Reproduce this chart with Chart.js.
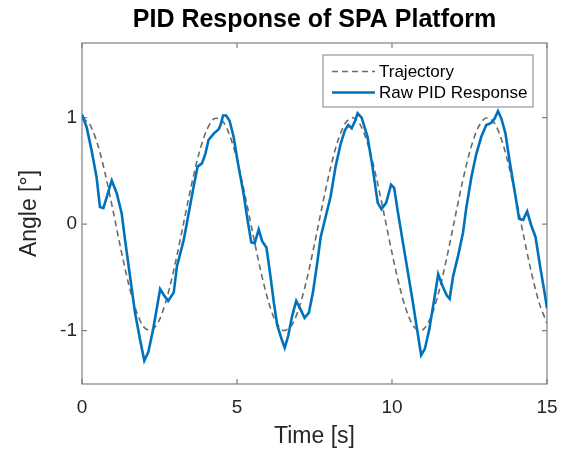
<!DOCTYPE html>
<html>
<head>
<meta charset="utf-8">
<title>PID Response of SPA Platform</title>
<script src="https://cdn.jsdelivr.net/npm/chart.js@4.4.0/dist/chart.umd.min.js"></script>
<style>
  html, body { margin: 0; padding: 0; background: #fff; }
  #wrap { width: 562px; height: 453px; }
</style>
</head>
<body>
<div id="wrap"><canvas id="pidChart" width="562" height="453"></canvas></div>
<script>
// reference trajectory (dashed), sampled every 0.25 s
const trajTime = [
  0, 0.25, 0.5, 0.75, 1, 1.25, 1.5, 1.75, 2, 2.25,
  2.5, 2.75, 3, 3.25, 3.5, 3.75, 4, 4.25, 4.5, 4.75,
  5, 5.25, 5.5, 5.75, 6, 6.25, 6.5, 6.75, 7, 7.25,
  7.5, 7.75, 8, 8.25, 8.5, 8.75, 9, 9.25, 9.5, 9.75,
  10, 10.25, 10.5, 10.75, 11, 11.25, 11.5, 11.75, 12, 12.25,
  12.5, 12.75, 13, 13.25, 13.5, 13.75, 14, 14.25, 14.5, 14.75, 15
];
const trajAngle = [
  1.000, 0.936, 0.752, 0.471, 0.129, -0.229, -0.557, -0.814, -0.967, -0.995,
  -0.896, -0.681, -0.379, -0.029, 0.325, 0.638, 0.868, 0.987, 0.980, 0.846,
  0.604, 0.284, -0.072, -0.419, -0.712, -0.914, -0.998, -0.955, -0.788, -0.521,
  -0.186, 0.172, 0.508, 0.779, 0.950, 0.999, 0.920, 0.722, 0.432, 0.086,
  -0.270, -0.592, -0.838, -0.977, -0.990, -0.875, -0.649, -0.339, 0.014, 0.366,
  0.670, 0.889, 0.993, 0.970, 0.822, 0.569, 0.243, -0.115, -0.458, -0.741, -0.931
];

// raw PID response (solid blue)
const pidTime = [
  0.00, 0.15, 0.31, 0.47, 0.58, 0.69, 0.96, 1.12, 1.28, 1.39,
  1.55, 1.71, 1.87, 2.01, 2.14, 2.30, 2.52, 2.65, 2.78, 2.96,
  3.06, 3.28, 3.44, 3.60, 3.73, 3.87, 3.98, 4.08, 4.25, 4.41,
  4.48, 4.55, 4.65, 4.76, 4.89, 5.05, 5.21, 5.34, 5.46, 5.57,
  5.70, 5.81, 5.95, 6.08, 6.19, 6.30, 6.44, 6.54, 6.65, 6.78,
  6.91, 7.05, 7.18, 7.32, 7.45, 7.59, 7.70, 7.86, 8.02, 8.18,
  8.34, 8.48, 8.59, 8.70, 8.81, 8.89, 9.02, 9.21, 9.37, 9.54,
  9.66, 9.81, 9.97, 10.07, 10.18, 10.34, 10.50, 10.66, 10.81, 10.94,
  11.06, 11.20, 11.36, 11.49, 11.63, 11.77, 11.86, 11.97, 12.13, 12.29,
  12.40, 12.56, 12.72, 12.88, 13.04, 13.20, 13.31, 13.42, 13.53, 13.66,
  13.79, 13.95, 14.10, 14.23, 14.36, 14.49, 14.63, 14.78, 14.92, 15.00
];
const pidAngle = [
  1.03, 0.91, 0.69, 0.44, 0.16, 0.15, 0.41, 0.29, 0.10, -0.15,
  -0.49, -0.83, -1.08, -1.28, -1.20, -0.98, -0.61, -0.67, -0.72, -0.64,
  -0.40, -0.15, 0.10, 0.35, 0.54, 0.57, 0.66, 0.79, 0.85, 0.89,
  0.94, 1.02, 1.02, 0.97, 0.82, 0.54, 0.29, 0.04, -0.17, -0.18,
  -0.05, -0.16, -0.22, -0.49, -0.74, -0.95, -1.08, -1.16, -1.05, -0.86,
  -0.72, -0.80, -0.88, -0.83, -0.64, -0.36, -0.12, 0.07, 0.26, 0.54,
  0.75, 0.88, 0.93, 0.90, 0.97, 1.04, 1.00, 0.82, 0.54, 0.20,
  0.14, 0.20, 0.37, 0.34, 0.13, -0.15, -0.43, -0.71, -0.99, -1.23,
  -1.17, -0.99, -0.71, -0.47, -0.58, -0.67, -0.70, -0.49, -0.30, -0.08,
  0.16, 0.44, 0.66, 0.82, 0.93, 0.95, 0.99, 1.06, 0.99, 0.85,
  0.60, 0.32, 0.05, 0.04, 0.12, -0.01, -0.12, -0.40, -0.64, -0.79
];

const xTickValues = [0, 5, 10, 15];
const yTickValues = [-1, 0, 1];

Chart.defaults.font.family = "'Liberation Sans', Arial, sans-serif";
Chart.defaults.color = '#262626';

// matlab style box around the axes with ticks pointing inwards
const axesBox = {
  id: 'axesBox',
  beforeDatasetsDraw(chart) {
    const { ctx, chartArea: a, scales: { x, y } } = chart;
    ctx.save();
    ctx.strokeStyle = '#808080';
    ctx.lineWidth = 1.2;
    ctx.strokeRect(a.left, a.top, a.right - a.left, a.bottom - a.top);
    ctx.beginPath();
    x.ticks.forEach(t => {
      const px = x.getPixelForValue(t.value);
      ctx.moveTo(px, a.bottom); ctx.lineTo(px, a.bottom - 5);
      ctx.moveTo(px, a.top); ctx.lineTo(px, a.top + 5);
    });
    y.ticks.forEach(t => {
      const py = y.getPixelForValue(t.value);
      ctx.moveTo(a.left, py); ctx.lineTo(a.left + 5, py);
      ctx.moveTo(a.right, py); ctx.lineTo(a.right - 5, py);
    });
    ctx.stroke();
    ctx.restore();
  }
};

// legend inside the axes, top right, with a border
const boxLegend = {
  id: 'boxLegend',
  afterDatasetsDraw(chart) {
    const { ctx, chartArea: a } = chart;
    const w = 210, h = 52;
    const left = a.right - 224, top = a.top + 12;
    ctx.save();
    ctx.fillStyle = '#fff';
    ctx.fillRect(left, top, w, h);
    ctx.strokeStyle = '#808080';
    ctx.lineWidth = 1;
    ctx.strokeRect(left, top, w, h);
    ctx.font = "17px 'Liberation Sans', Arial, sans-serif";
    ctx.textBaseline = 'middle';
    chart.data.datasets.forEach((ds, i) => {
      const yy = top + 16.5 + i * 21;
      ctx.beginPath();
      ctx.strokeStyle = ds.borderColor;
      ctx.lineWidth = ds.borderWidth;
      ctx.setLineDash(ds.borderDash || []);
      ctx.moveTo(left + 9, yy);
      ctx.lineTo(left + 52, yy);
      ctx.stroke();
      ctx.setLineDash([]);
      ctx.fillStyle = '#000';
      ctx.fillText(ds.label, left + 56, yy + 1);
    });
    ctx.restore();
  }
};

const ctx = document.getElementById('pidChart').getContext('2d');
new Chart(ctx, {
  type: 'line',
  data: {
    datasets: [
      {
        label: 'Trajectory',
        data: trajTime.map((t, i) => ({ x: t, y: trajAngle[i] })),
        borderColor: '#6b6b6b',
        borderWidth: 1.6,
        borderDash: [6, 4],
        tension: 0.3,
        pointRadius: 0,
        order: 1
      },
      {
        label: 'Raw PID Response',
        data: pidTime.map((t, i) => ({ x: t, y: pidAngle[i] })),
        borderColor: '#0072BD',
        borderWidth: 2.6,
        tension: 0,
        pointRadius: 0,
        order: 0
      }
    ]
  },
  options: {
    responsive: false,
    animation: false,
    devicePixelRatio: 1,
    layout: { padding: { left: 0, right: 15, top: 0, bottom: 0 } },
    plugins: {
      legend: { display: false },
      tooltip: { enabled: false },
      title: {
        display: true,
        fullSize: false,
        text: 'PID Response of SPA Platform',
        color: '#000',
        font: { size: 25, weight: 'bold' },
        padding: { top: 5, bottom: 8 }
      }
    },
    scales: {
      x: {
        type: 'linear',
        min: 0,
        max: 15,
        afterBuildTicks: s => { s.ticks = xTickValues.map(v => ({ value: v })); },
        afterFit: s => { s.height = 69; s.paddingLeft = 0; s.paddingRight = 0; },
        grid: { display: false, drawTicks: false },
        border: { display: false },
        ticks: { font: { size: 19 }, padding: 12, maxRotation: 0 },
        title: { display: true, text: 'Time [s]', font: { size: 23 }, padding: { top: 0, bottom: 3 } }
      },
      y: {
        type: 'linear',
        min: -1.5,
        max: 1.7,
        afterBuildTicks: s => { s.ticks = yTickValues.map(v => ({ value: v })); },
        afterFit: s => { s.width = 82; s.paddingTop = 0; s.paddingBottom = 0; },
        grid: { display: false, drawTicks: false },
        border: { display: false },
        ticks: { font: { size: 19 }, padding: 5 },
        title: { display: true, text: 'Angle [°]', font: { size: 23 }, padding: { top: 16, bottom: 0 } }
      }
    }
  },
  plugins: [axesBox, boxLegend]
});
</script>
</body>
</html>
